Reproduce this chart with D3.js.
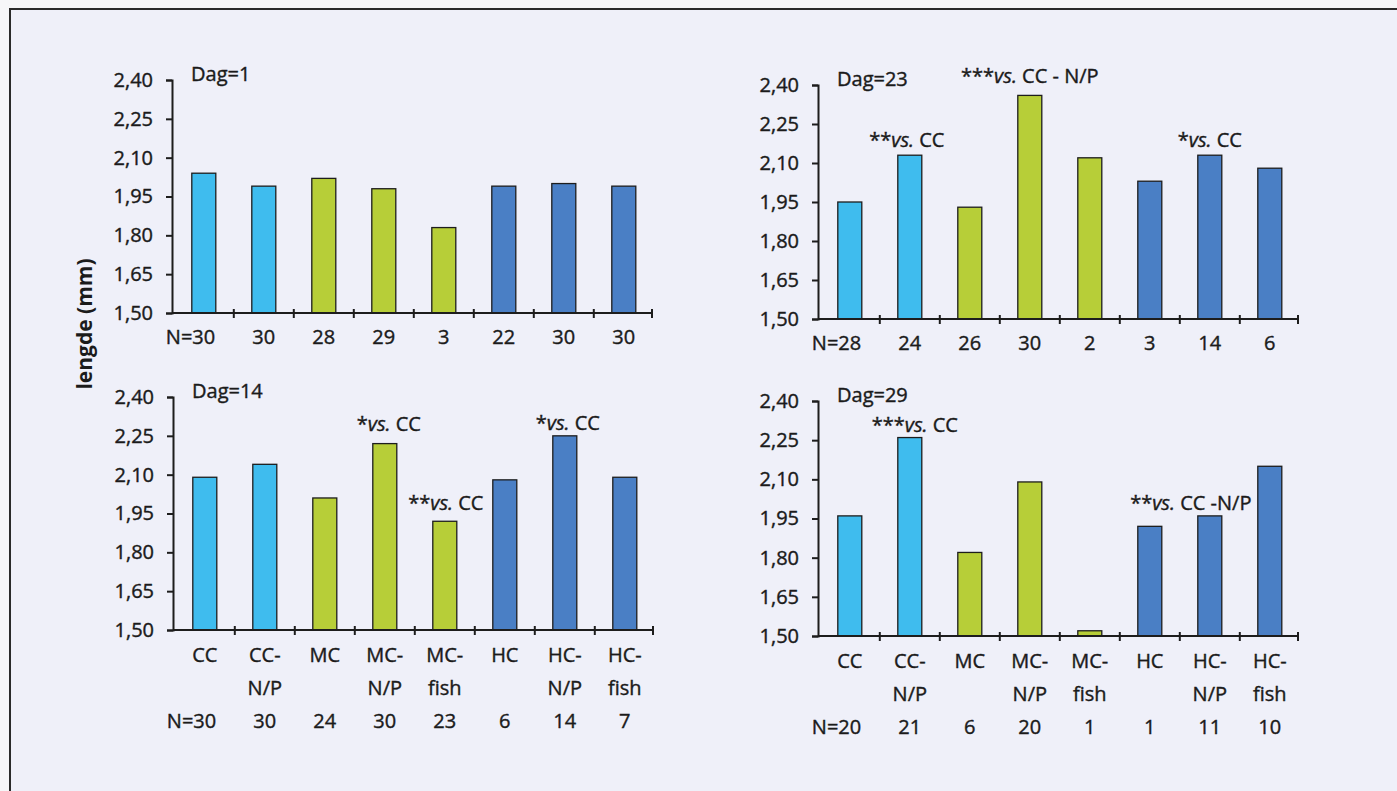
<!DOCTYPE html>
<html>
<head>
<meta charset="utf-8">
<script src="https://cdn.jsdelivr.net/npm/d3@7"></script>
<style>
  body { margin: 0; background: #f6f6f8; }
  text { font-family: "Open Sans", "Noto Sans", sans-serif; fill: #1b1b1b; stroke: #1b1b1b; stroke-width: 0.4px; }
</style>
</head>
<body>
<div id="chart"></div>
<script>
// Group names (one bar per group) and how they are split on two lines
const groups = ['CC', 'CC-N/P', 'MC', 'MC-N/P', 'MC-fish', 'HC', 'HC-N/P', 'HC-fish'];
const groupLines = [['CC'], ['CC-', 'N/P'], ['MC'], ['MC-', 'N/P'], ['MC-', 'fish'], ['HC'], ['HC-', 'N/P'], ['HC-', 'fish']];
const groupDiet = ['C', 'C', 'M', 'M', 'M', 'H', 'H', 'H'];

const yTicks = [1.50, 1.65, 1.80, 1.95, 2.10, 2.25, 2.40];

// lengde (mm) per dag
const dag1 = [2.04, 1.99, 2.02, 1.98, 1.83, 1.99, 2.00, 1.99];
const dag1N = [30, 30, 28, 29, 3, 22, 30, 30];

const dag23 = [1.95, 2.13, 1.93, 2.36, 2.12, 2.03, 2.13, 2.08];
const dag23N = [28, 24, 26, 30, 2, 3, 14, 6];

const dag14 = [2.09, 2.14, 2.01, 2.22, 1.92, 2.08, 2.25, 2.09];
const dag14N = [30, 30, 24, 30, 23, 6, 14, 7];

const dag29 = [1.96, 2.26, 1.82, 2.09, 1.52, 1.92, 1.96, 2.15];
const dag29N = [20, 21, 6, 20, 1, 1, 11, 10];

// significance notes: [group, stars, rest of text]
const notes1 = [];
const notes23 = [['CC-N/P', '**', 'CC'], ['MC-N/P', '***', 'CC - N/P'], ['HC-N/P', '*', 'CC']];
const notes14 = [['MC-N/P', '*', 'CC'], ['MC-fish', '**', 'CC'], ['HC-N/P', '*', 'CC']];
const notes29 = [['CC-N/P', '***', 'CC'], ['HC-N/P', '**', 'CC -N/P']];

const width = 1397, height = 791;

const color = d3.scaleOrdinal()
    .domain(['C', 'M', 'H'])
    .range(['#3fbcee', '#b7ce38', '#4a7fc5']);

const fmt = d => d3.format('.2f')(d).replace('.', ',');

const svg = d3.select('#chart')
    .append('svg')
    .attr('width', width)
    .attr('height', height);

// page background and frame
svg.append('rect')
    .attr('x', 10).attr('y', 9)
    .attr('width', width - 10).attr('height', height - 9)
    .attr('fill', '#eff0f9');

svg.append('path')
    .attr('d', `M10,${height}V9H${width}`)
    .attr('fill', 'none')
    .attr('stroke', '#2a2a2a')
    .attr('stroke-width', 2);

// one panel per day (noteDx / noteDy nudge the significance labels)
const panels = [
    {title: 'Dag=1', values: dag1, n: dag1N, notes: notes1, left: 172, top: 80, bottom: 313, names: false,
     noteDx: [], noteDy: []},
    {title: 'Dag=23', values: dag23, n: dag23N, notes: notes23, left: 818, top: 85, bottom: 319, names: false,
     noteDx: [-3, 0, 0], noteDy: [-8, -12, -8]},
    {title: 'Dag=14', values: dag14, n: dag14N, notes: notes14, left: 173, top: 397, bottom: 630, names: true,
     noteDx: [4, 1, 3], noteDy: [-13, -11, -6]},
    {title: 'Dag=29', values: dag29, n: dag29N, notes: notes29, left: 818, top: 401, bottom: 636, names: true,
     noteDx: [5, -19], noteDy: [-6, -6]}
];

panels.forEach(function(p) {
    const g = svg.append('g');

    const xScale = d3.scaleBand()
        .domain(groups)
        .range([p.left, p.left + 480])
        .paddingInner(0.6)
        .paddingOuter(0.3)
        .align(0.55);

    const yScale = d3.scaleLinear()
        .domain([1.5, 2.4])
        .range([p.bottom, p.top]);

    // bars
    g.selectAll('rect.bar')
        .data(p.values)
        .enter()
        .append('rect')
        .attr('class', 'bar')
        .attr('x', (d, i) => xScale(groups[i]))
        .attr('y', d => yScale(d))
        .attr('width', xScale.bandwidth())
        .attr('height', d => yScale(1.5) - yScale(d))
        .attr('fill', (d, i) => color(groupDiet[i]))
        .attr('stroke', '#1d1d1d')
        .attr('stroke-width', 1.3);

    // y axis
    const yAxis = g.append('g')
        .attr('transform', `translate(${p.left},0)`)
        .call(d3.axisLeft(yScale).tickValues(yTicks).tickFormat(fmt).tickSize(6).tickPadding(13));
    yAxis.select('.domain').attr('stroke', '#1d1d1d').attr('stroke-width', 2);
    yAxis.selectAll('.tick line').attr('stroke', '#1d1d1d').attr('stroke-width', 2);
    yAxis.selectAll('.tick text')
        .style('font-size', '20px')
        .attr('fill', '#1b1b1b');

    // x axis line with crossing ticks at band edges
    g.append('line')
        .attr('x1', p.left).attr('x2', p.left + 480)
        .attr('y1', yScale(1.5)).attr('y2', yScale(1.5))
        .attr('stroke', '#1d1d1d').attr('stroke-width', 2);

    const edges = groups.map(c => xScale(c) - xScale.step() * xScale.paddingInner() / 2)
        .concat([p.left + 480]);
    g.selectAll('line.xt')
        .data(edges.slice(1))
        .enter()
        .append('line')
        .attr('class', 'xt')
        .attr('x1', d => d).attr('x2', d => d)
        .attr('y1', yScale(1.5) - 4).attr('y2', yScale(1.5) + 5)
        .attr('stroke', '#1d1d1d').attr('stroke-width', 2);

    const cx = c => xScale(c) + xScale.bandwidth() / 2;
    const base = yScale(1.5);

    // group names (two lines) for the lower panels
    if (p.names) {
        groupLines.forEach(function(lines, i) {
            lines.forEach(function(t, k) {
                g.append('text')
                    .attr('x', cx(groups[i]))
                    .attr('y', base + 32 + k * 33)
                    .attr('text-anchor', 'middle')
                    .style('font-size', '20px')
                    .text(t);
            });
        });
    }

    // N per group
    const nY = p.names ? base + 98 : base + 31;
    p.n.forEach(function(v, i) {
        const t = g.append('text')
            .attr('x', cx(groups[i]))
            .attr('y', nY)
            .attr('text-anchor', 'middle')
            .style('font-size', '20px')
            .text(v);
        if (i === 0) {
            const bb = t.node().getBBox();
            g.append('text')
                .attr('x', bb.x)
                .attr('y', nY)
                .attr('text-anchor', 'end')
                .style('font-size', '20px')
                .text('N=');
        }
    });

    // title
    g.append('text')
        .attr('x', p.left + 19)
        .attr('y', p.top + 1)
        .style('font-size', '20px')
        .text(p.title);

    // significance notes
    p.notes.forEach(function(nt, k) {
        const i = groups.indexOf(nt[0]);
        const t = g.append('text')
            .attr('x', cx(nt[0]) + p.noteDx[k])
            .attr('y', yScale(p.values[i]) + p.noteDy[k])
            .attr('text-anchor', 'middle')
            .style('font-size', '20px');
        t.append('tspan').text(nt[1]);
        t.append('tspan').style('font-style', 'italic').text('vs.');
        t.append('tspan').text(' ' + nt[2]);
    });
});

// y axis title shared by all panels
svg.append('text')
    .attr('transform', 'translate(92,324) rotate(-90)')
    .attr('text-anchor', 'middle')
    .style('font-size', '21px')
    .style('font-weight', 'bold')
    .style('stroke-width', 0)
    .text('lengde (mm)');
</script>
</body>
</html>
